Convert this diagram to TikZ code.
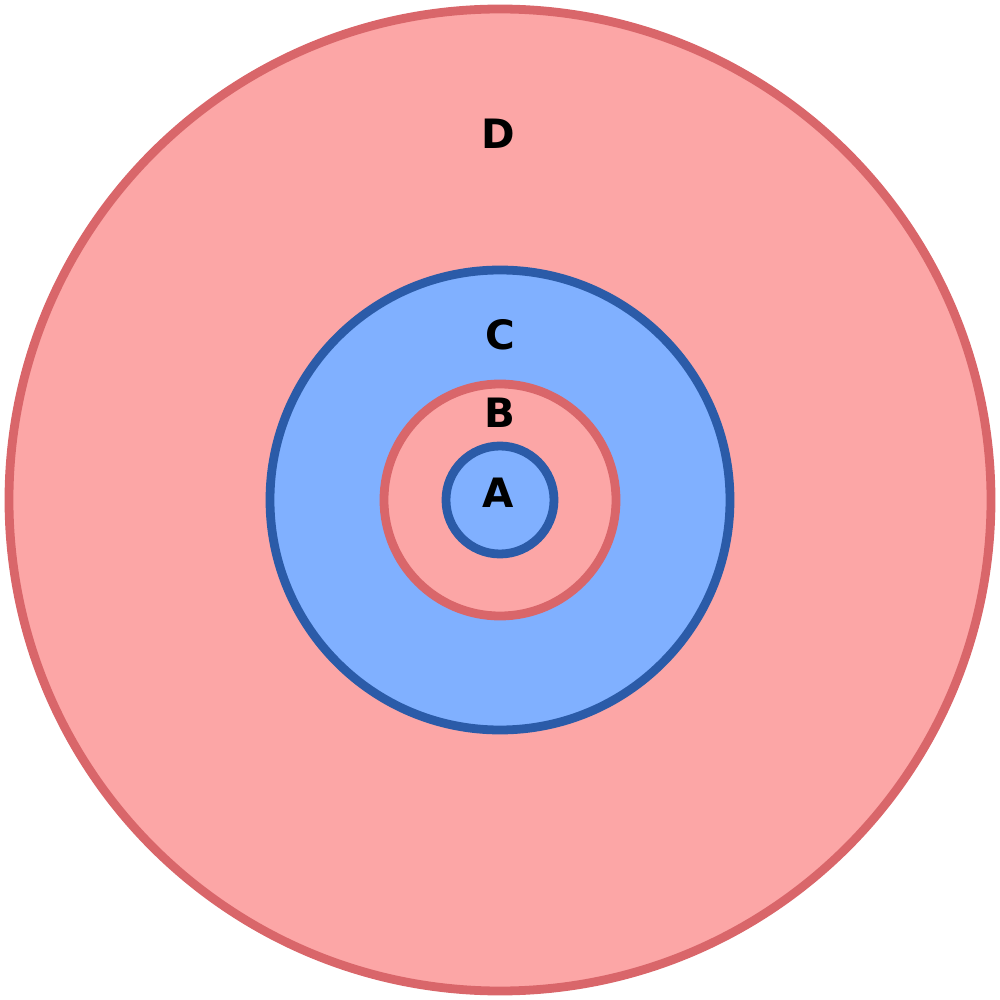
\documentclass[tikz,border=0pt]{standalone}
\usepackage{fontspec}
\setmainfont{DejaVu Sans}
\definecolor{redfill}{HTML}{FCA6A6}
\definecolor{redline}{HTML}{D9666A}
\definecolor{bluefill}{HTML}{80B0FF}
\definecolor{blueline}{HTML}{2B5BA8}
\begin{document}
\begin{tikzpicture}[x=0.01cm,y=0.01cm,
  ring/.style={line width=2.5pt},
  redring/.style={ring,draw=redline,fill=redfill},
  bluering/.style={ring,draw=blueline,fill=bluefill},
  lbl/.style={font=\bfseries\fontsize{11.5}{13}\selectfont,text=black,inner sep=0pt}]
\useasboundingbox (-500,-500) rectangle (500,500);
\draw[redring] (0,0) circle (491);
\draw[bluering] (0,0) circle (230);
\draw[redring] (0,0) circle (116);
\draw[bluering] (0,0) circle (54);
\node[lbl] (D) at (-2,366) {D};
\node[lbl] (C) at (0,165) {C};
\node[lbl] (B) at (0,87) {B};
\node[lbl] (A) at (-2,7) {A};
\end{tikzpicture}
\end{document}
